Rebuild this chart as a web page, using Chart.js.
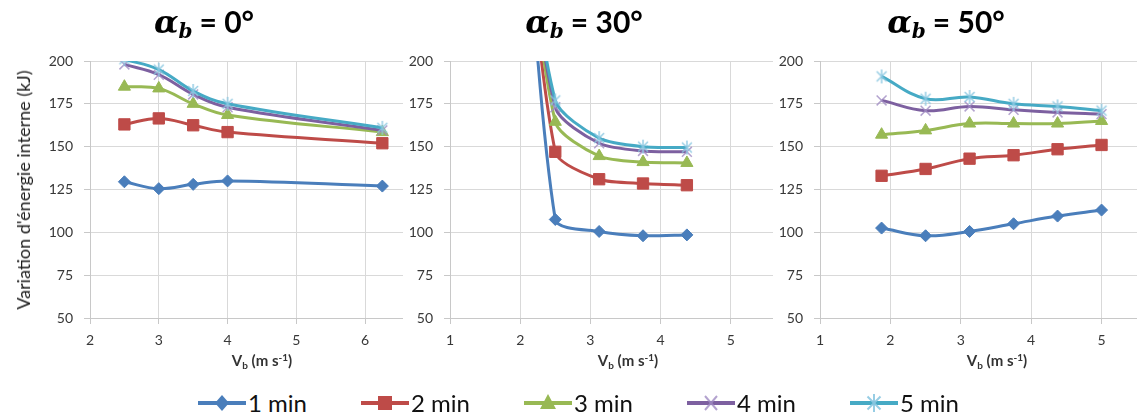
<!DOCTYPE html>
<html>
<head>
<meta charset="utf-8">
<script src="https://cdn.jsdelivr.net/npm/chart.js@4.4.1/dist/chart.umd.min.js"></script>
<style>
    body { margin: 0; width: 1137px; height: 416px; overflow: hidden; background: #fff; position: relative; font-family: Lato, sans-serif; }
    canvas { position: absolute; top: 0; }
    .ptitle { position: absolute; top: 3px; transform: translateX(-50%); white-space: nowrap; font: bold 30px Lato, sans-serif; color: #000; z-index: 5; }
    .ptitle i { font-family: 'DejaVu Serif', serif; font-size: 32px; }
    .ptitle sub { font-size: 20px; vertical-align: -5px; margin-right: 7px; }
    .xtitle { position: absolute; top: 351px; transform: translateX(-50%); white-space: nowrap; font: bold 15px Lato, sans-serif; color: #333; z-index: 5; }
    .xtitle sub { font-size: 10px; vertical-align: -3px; }
    .xtitle sup { font-size: 10px; vertical-align: 5px; line-height: 0; }
    .ytitle { position: absolute; left: 23px; top: 190px; transform: translate(-50%, -50%) rotate(-90deg); white-space: nowrap; font: 18px Lato, sans-serif; color: #1e1e1e; z-index: 5; }
    #legend { position: absolute; left: 198px; top: 388px; display: flex; z-index: 5; }
    .item { width: 163px; display: flex; align-items: center; font: 24px Lato, sans-serif; color: #111; }
    .item svg { margin-right: 2px; }
</style>
</head>
<body>

<canvas id="panel0" width="446" height="380" style="left:0px"></canvas>
<canvas id="panel1" width="410" height="380" style="left:403px"></canvas>
<canvas id="panel2" width="411" height="380" style="left:773px"></canvas>

<div class="ptitle" style="left:204px"><i>α<sub>b</sub></i>= 0°</div>
<div class="ptitle" style="left:584px"><i>α<sub>b</sub></i>= 30°</div>
<div class="ptitle" style="left:946px"><i>α<sub>b</sub></i>= 50°</div>

<div class="ytitle">Variation d'énergie interne (kJ)</div>
<div class="xtitle" style="left:262px">V<sub>b</sub> (m s<sup>-1</sup>)</div>
<div class="xtitle" style="left:628px">V<sub>b</sub> (m s<sup>-1</sup>)</div>
<div class="xtitle" style="left:997px">V<sub>b</sub> (m s<sup>-1</sup>)</div>

<div id="legend"></div>

<script>
// ---- data ----
const seriesNames = ['1 min', '2 min', '3 min', '4 min', '5 min'];

const yTickValues = [50, 75, 100, 125, 150, 175, 200];
const xTicksA0 = [2, 3, 4, 5, 6, 7];
const xTicksA30 = [1, 2, 3, 4, 5, 6];
const xTicksA50 = [1, 2, 3, 4, 5, 6];

// alpha_b = 0 deg
const vbA0 = [2.5, 3, 3.5, 4, 6.25];
const energyA0 = [
    [129.5, 125.5, 128, 130, 127],
    [163, 166.5, 162.5, 158.5, 152],
    [185, 184, 175, 168.5, 158.5],
    [198, 192, 180.5, 173, 159.5],
    [201, 195, 182.5, 175, 161]
];

// alpha_b = 30 deg (first point is off the top of the axis, value guessed)
const vbA30 = [1.875, 2.5, 3.125, 3.75, 4.375];
const energyA30 = [
    [420, 107.5, 100.5, 98, 98.5],
    [380, 147, 131, 128.5, 127.5],
    [360, 164.5, 144.5, 141, 140.5],
    [350, 173, 152, 147.5, 147],
    [350, 177, 155, 150, 149.5]
];

// alpha_b = 50 deg
const vbA50 = [1.875, 2.5, 3.125, 3.75, 4.375, 5];
const energyA50 = [
    [102.5, 98, 100.5, 105, 109.5, 113],
    [133, 137, 143, 145, 148.5, 151],
    [157, 159.5, 163.5, 163.5, 163.5, 165],
    [177, 171, 173.5, 171.5, 170, 169],
    [191, 178, 179, 175, 173.5, 171]
];

// ---- styles ----
const seriesColors = ['#4a7ebb', '#be4b48', '#98b954', '#7d60a0', '#46aac5'];
const lightColors = ['#4a7ebb', '#be4b48', '#98b954', 'rgba(160,140,195,0.8)', 'rgba(140,200,225,0.9)'];
const tickFont = { family: 'Lato, sans-serif', size: 14 };
const tickColor = '#383838';

// 6-arm asterisk like Excel's star marker
function starMarker(color, r) {
    const c = document.createElement('canvas');
    const s = Math.ceil(2 * r + 4);
    c.width = c.height = s;
    const g = c.getContext('2d');
    const m = s / 2;
    g.strokeStyle = color;
    g.lineWidth = 1.5;
    g.beginPath();
    g.moveTo(m, m - r); g.lineTo(m, m + r);
    const d = r * Math.SQRT1_2;
    g.moveTo(m - d, m - d); g.lineTo(m + d, m + d);
    g.moveTo(m - d, m + d); g.lineTo(m + d, m - d);
    g.stroke();
    return c;
}

const markerStyles = ['rectRot', 'rect', 'triangle', 'crossRot', starMarker(lightColors[4], 7)];
const markerRadii = [6, 8, 7, 7, 7];

// opaque background so each panel covers the right edge of the previous one
const whiteBg = {
    id: 'whiteBg',
    beforeDraw(chart) {
        const ctx = chart.ctx;
        ctx.save();
        ctx.fillStyle = '#fff';
        ctx.fillRect(0, 0, chart.width, chart.height);
        ctx.restore();
    }
};

function makePanel(id, xs, rows, xTicks, yWidth, tension) {
    const datasets = rows.map((row, i) => ({
        label: seriesNames[i],
        data: xs.map((x, k) => ({ x: x, y: row[k] })),
        borderColor: seriesColors[i],
        backgroundColor: seriesColors[i],
        borderWidth: 3,
        tension: tension,
        clip: { left: 0, top: 0, right: 0, bottom: 0 },
        pointStyle: markerStyles[i],
        pointRadius: markerRadii[i],
        pointBorderColor: lightColors[i],
        pointBackgroundColor: lightColors[i],
        pointBorderWidth: i >= 3 ? 1.5 : 1
    })).reverse();

    return new Chart(document.getElementById(id), {
        type: 'line',
        data: { datasets },
        plugins: [whiteBg],
        options: {
            responsive: false,
            animation: false,
            layout: { padding: { top: 61, right: 10, bottom: 0, left: 0 } },
            plugins: { legend: { display: false }, tooltip: { enabled: false } },
            scales: {
                x: {
                    type: 'linear',
                    min: xTicks[0],
                    max: xTicks[xTicks.length - 1],
                    afterBuildTicks: s => { s.ticks = xTicks.map(v => ({ value: v })); },
                    afterFit: s => { s.height = 62; },
                    grid: { color: '#d9d9d9', tickLength: 6, tickColor: '#c8c8c8' },
                    border: { color: '#c8c8c8' },
                    ticks: { font: tickFont, color: tickColor, padding: 8, maxRotation: 0 }
                },
                y: {
                    min: 50,
                    max: 200,
                    afterBuildTicks: s => { s.ticks = yTickValues.map(v => ({ value: v })); },
                    afterFit: s => { s.width = yWidth; },
                    grid: { color: '#d9d9d9', tickLength: 6, tickColor: '#c8c8c8' },
                    border: { color: '#c8c8c8' },
                    ticks: { font: tickFont, color: tickColor, padding: 11 }
                }
            }
        }
    });
}

makePanel('panel0', vbA0, energyA0, xTicksA0, 90, 0.4);
makePanel('panel1', vbA30, energyA30, xTicksA30, 47, 0.25);
makePanel('panel2', vbA50, energyA50, xTicksA50, 47, 0.4);

// ---- legend ----
function legendMarker(i) {
    const c = seriesColors[i], lc = lightColors[i];
    const shapes = [
        `<polygon points="24,4 31,12 24,20 17,12" fill="${c}"/>`,
        `<rect x="17" y="5" width="14" height="14" fill="${c}"/>`,
        `<polygon points="24,3 32,18 16,18" fill="${c}"/>`,
        `<path d="M18 5L30 19M30 5L18 19" stroke="${lc}" stroke-width="2"/>`,
        `<path d="M24 3V21M17.5 5.5L30.5 18.5M30.5 5.5L17.5 18.5" stroke="${lc}" stroke-width="2"/>`
    ];
    return `<svg width="48" height="24"><line x1="0" y1="12" x2="48" y2="12" stroke="${c}" stroke-width="4" stroke-linecap="round"/>${shapes[i]}</svg>`;
}

document.getElementById('legend').innerHTML = seriesNames
    .map((name, i) => `<div class="item">${legendMarker(i)}<span>${name}</span></div>`)
    .join('');
</script>
</body>
</html>
